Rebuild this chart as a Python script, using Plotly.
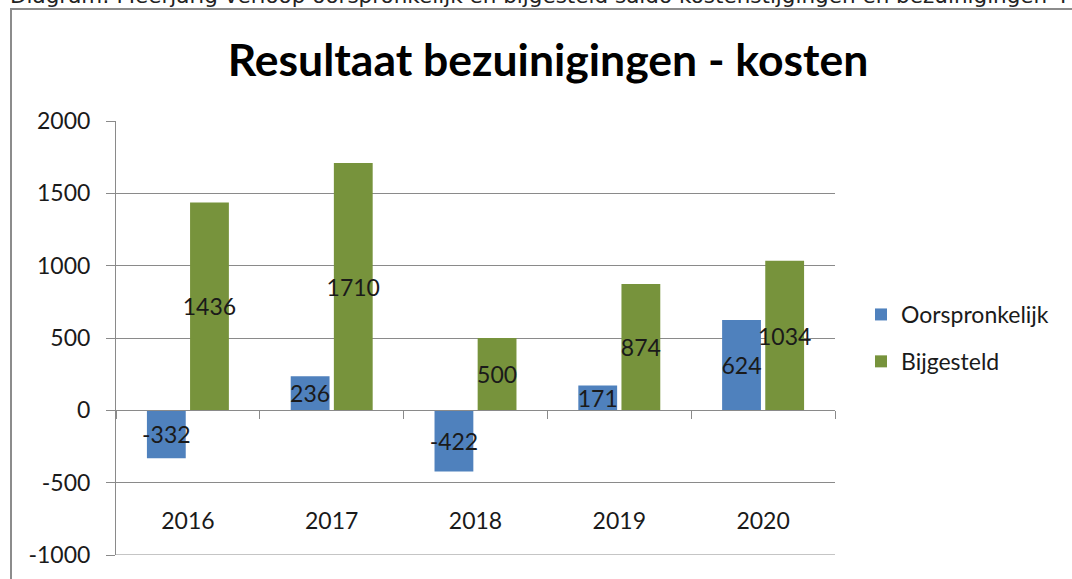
import plotly.graph_objects as go

years = ["2016", "2017", "2018", "2019", "2020"]
oorspronkelijk = [-332, 236, -422, 171, 624]
bijgesteld = [1436, 1710, 500, 874, 1034]
y_ticks = [-1000, -500, 0, 500, 1000, 1500, 2000]
y_tick_text = ["-1000", "-500", "0", "500", "1000", "1500", "2000"]

title_text = "Resultaat bezuinigingen - kosten"
caption_text = ("Diagram: Meerjarig verloop oorspronkelijk en bijgesteld saldo "
                "kostenstijgingen en bezuinigingen")
caption_tail = "M"

W, H = 1072, 579
L, R, T, B = 116, 835, 121, 555
pw, ph = R - L, B - T

def px_x(p):
    return (p - L) / pw

def px_y(p):
    return (B - p) / ph

FONT = "Lato"
TXT = "#1a1a1a"
GRID = "#8a8a8a"

fig = go.Figure()
fig.add_trace(go.Bar(
    x=years, y=oorspronkelijk, name="Oorspronkelijk",
    marker=dict(color="#4F81BD", line=dict(width=0)),
    text=[str(v) for v in oorspronkelijk], textposition="inside",
    insidetextanchor="middle", constraintext="none", textangle=0,
    textfont=dict(family=FONT, size=23, color=TXT),
    cliponaxis=False, legendgroup="a",
))
fig.add_trace(go.Bar(
    x=years, y=bijgesteld, name="Bijgesteld",
    marker=dict(color="#77933C", line=dict(width=0)),
    text=[str(v) for v in bijgesteld], textposition="inside",
    insidetextanchor="middle", constraintext="none", textangle=0,
    textfont=dict(family=FONT, size=23, color=TXT),
    cliponaxis=False, legendgroup="b",
))
# helper axis: zero line with tick marks between categories
fig.add_trace(go.Scatter(x=[0], y=[0], xaxis="x2", yaxis="y",
                         mode="markers", marker=dict(opacity=0),
                         showlegend=False, hoverinfo="skip"))

cap_font = dict(family="DejaVu Sans", size=21.5, color="#222222")

fig.update_layout(
    width=W, height=H,
    margin=dict(l=L, r=W - R, t=T, b=H - B, pad=0),
    paper_bgcolor="white", plot_bgcolor="white",
    font=dict(family=FONT, size=23, color=TXT),
    barmode="group", bargap=0.4, bargroupgap=0.1,
    showlegend=True,
    legend=dict(x=px_x(861), y=px_y(338), xanchor="left", yanchor="middle",
                font=dict(family=FONT, size=23, color=TXT),
                tracegroupgap=14, bgcolor="rgba(0,0,0,0)"),
    xaxis=dict(type="category", range=[-0.5, 4.5], anchor="free",
               position=px_y(505), showline=False, showgrid=False,
               ticks="", zeroline=False,
               tickfont=dict(family=FONT, size=23, color=TXT)),
    xaxis2=dict(overlaying="x", range=[-0.5, 4.5], anchor="free",
                position=px_y(410), showline=True, linecolor=GRID, linewidth=1,
                tickvals=[-0.5, 0.5, 1.5, 2.5, 3.5, 4.5], ticks="outside",
                ticklen=8, tickcolor=GRID, showticklabels=False,
                showgrid=False, zeroline=False),
    yaxis=dict(range=[-1000, 2000], tickvals=y_ticks, ticktext=y_tick_text,
               showgrid=True, gridcolor=GRID, gridwidth=1, zeroline=False,
               showline=True, linecolor=GRID, linewidth=1,
               ticks="outside", ticklen=9, tickcolor=GRID,
               ticklabelstandoff=11,
               tickfont=dict(family=FONT, size=23, color=TXT)),
    title=dict(text="<b>" + title_text + "</b>", xref="container",
               x=548 / W, xanchor="center",
               yref="container", y=1 - 60 / H, yanchor="middle",
               font=dict(family=FONT, size=44.5, color="#000000")),
    shapes=[dict(type="rect", xref="paper", yref="paper",
                 x0=px_x(11), x1=2.0, y0=-1.0, y1=px_y(9),
                 line=dict(color="#8c8c8c", width=2), fillcolor="rgba(0,0,0,0)",
                 layer="below"),
            dict(type="line", xref="paper", yref="y",
                 x0=0, x1=1, y0=y_ticks[0], y1=y_ticks[0],
                 line=dict(color=GRID, width=1))],
    annotations=[dict(text=caption_text, xref="paper", yref="paper",
                      x=px_x(8), y=px_y(-4), xanchor="left", yanchor="middle",
                      showarrow=False, font=cap_font),
                 dict(text=caption_tail, xref="paper", yref="paper",
                      x=px_x(1058), y=px_y(-4), xanchor="left", yanchor="middle",
                      showarrow=False, font=cap_font)],
)

fig.write_html("out.html", config={"displayModeBar": False},
               post_script="document.body.style.margin='0';"
                           "document.body.style.overflow='hidden';")
